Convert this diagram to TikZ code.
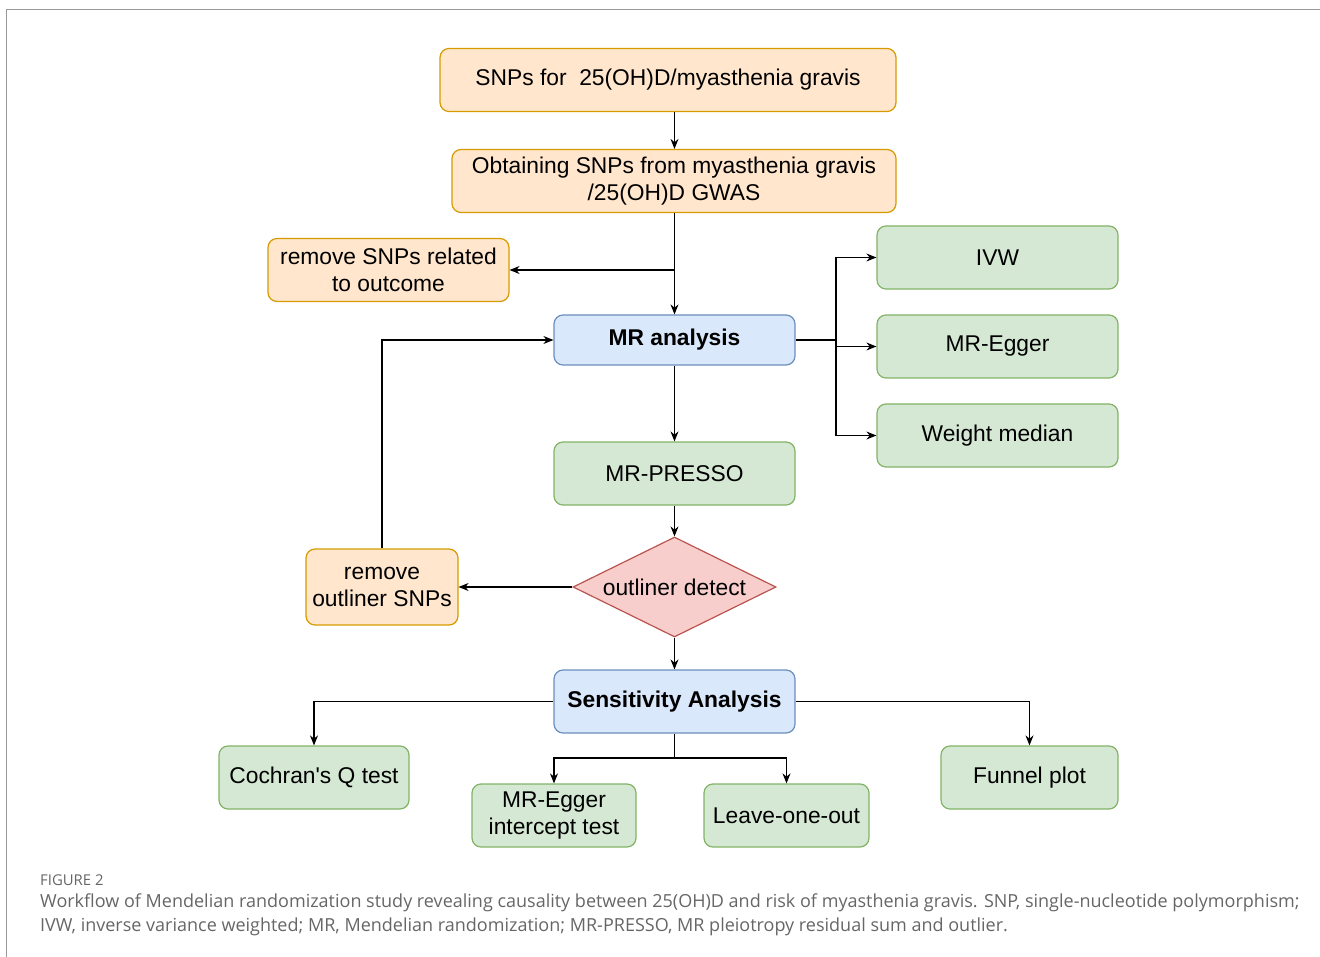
\documentclass[tikz,border=0pt]{standalone}
\usepackage{fontspec}
\setmainfont{Liberation Sans}
\newfontfamily\capfont{Open Sans}
\usetikzlibrary{shapes.geometric,arrows.meta}
\definecolor{ofill}{HTML}{FFE6CC}\definecolor{odraw}{HTML}{D79B00}
\definecolor{bfill}{HTML}{DAE8FC}\definecolor{bdraw}{HTML}{6C8EBF}
\definecolor{gfill}{HTML}{D5E8D4}\definecolor{gdraw}{HTML}{82B366}
\definecolor{rfill}{HTML}{F8CECC}\definecolor{rdraw}{HTML}{B85450}
\definecolor{capgray}{HTML}{666666}
\tikzset{
  box/.style={rounded corners=9pt, line width=1.2pt, align=center, inner sep=0pt,
    font=\fontsize{22.8}{27.5}\selectfont},
  obox/.style={box, fill=ofill, draw=odraw},
  bbox/.style={box, fill=bfill, draw=bdraw, font=\fontsize{22.8}{27.5}\selectfont\bfseries},
  gbox/.style={box, fill=gfill, draw=gdraw},
  dia/.style={diamond, fill=rfill, draw=rdraw, line width=1.2pt, inner sep=0pt},
  conn/.style={line width=1.3pt, -{Stealth[length=10pt,width=8pt]}},
  plain/.style={line width=1.3pt}
}
\begin{document}
\begin{tikzpicture}[x=1pt,y=-1pt]
\useasboundingbox (0,0) rectangle (1320,957);
\draw[gray!80, line width=1pt] (6,957) -- (6,10) -- (1320,10);
% nodes
\node[obox, minimum width=456pt, minimum height=63pt] (n1) at (668,80) {SNPs for\ \ 25(OH)D/myasthenia gravis};
\node[obox, minimum width=444pt, minimum height=63pt] (n2) at (674,181) {Obtaining SNPs from myasthenia gravis\\/25(OH)D GWAS};
\node[obox, minimum width=241pt, minimum height=63pt] (rem1) at (388.5,270) {remove SNPs related\\to outcome};
\node[bbox, minimum width=241pt, minimum height=50pt] (mr) at (674.5,340) {MR analysis};
\node[gbox, minimum width=241pt, minimum height=63pt] (ivw) at (997.5,257.5) {IVW};
\node[gbox, minimum width=241pt, minimum height=63pt] (egg) at (997.5,346.5) {MR-Egger};
\node[gbox, minimum width=241pt, minimum height=63pt] (wm) at (997.5,435.5) {Weight median};
\node[gbox, minimum width=241pt, minimum height=63pt] (presso) at (674.5,473.5) {MR-PRESSO};
\node[dia, minimum width=203pt, minimum height=100pt] (det) at (674.5,587) {};
\node[font=\fontsize{22.8}{27.5}\selectfont] (dett) at (det) {outliner detect};
\node[obox, minimum width=152pt, minimum height=76pt] (rem2) at (382,587) {remove\\outliner SNPs};
\node[bbox, minimum width=241pt, minimum height=63pt] (sens) at (674.5,701.5) {Sensitivity Analysis};
\node[gbox, minimum width=190pt, minimum height=63pt] (coch) at (314,777.5) {Cochran\textquotesingle s Q test};
\node[gbox, minimum width=164pt, minimum height=63pt] (mregg) at (554,815.5) {MR-Egger\\intercept test};
\node[gbox, minimum width=165pt, minimum height=63pt] (loo) at (786.5,815.5) {Leave-one-out};
\node[gbox, minimum width=177pt, minimum height=63pt] (fun) at (1029.5,777.5) {Funnel plot};
% connectors
\draw[conn] (n1.south -| mr) -- (n2.north -| mr);
\draw[conn] (n2.south -| mr) -- (mr.north);
\coordinate (j1) at (674.5,270);
\draw[conn] (j1) -- (rem1.east);
\coordinate (j2) at (836,340);
\draw[plain] (mr.east) -- (j2);
\draw[conn] (j2) |- (ivw.west);
\draw[conn] (j2) -- (egg.west -| j2) -- (egg.west);
\draw[conn] (j2) |- (wm.west);
\draw[conn] (mr.south) -- (presso.north);
\draw[conn] (presso.south) -- (det.north);
\draw[conn] (det.west) -- (rem2.east);
\draw[conn] (rem2.north) |- (mr.west);
\draw[conn] (det.south) -- (sens.north);
\draw[conn] (sens.west) -| (coch.north);
\draw[conn] (sens.east) -| (fun.north);
\coordinate (j3) at (674.5,758);
\draw[plain] (sens.south) -- (j3);
\draw[conn] (j3) -| (mregg.north);
\draw[conn] (j3) -| (loo.north);
% caption
\node[anchor=west, inner sep=0pt, text=capgray, font=\capfont\fontsize{14.9}{17}\selectfont] (fig) at (40,880) {FIGURE 2};
\node[anchor=north west, inner sep=0pt, text=capgray, align=left, font=\capfont\fontsize{18}{24}\selectfont] (cap) at (40,894) {Workflow of Mendelian randomization study revealing causality between 25(OH)D and risk of myasthenia gravis. SNP, single-nucleotide polymorphism;\\IVW, inverse variance weighted; MR, Mendelian randomization; MR-PRESSO, MR pleiotropy residual sum and outlier.};
\end{tikzpicture}
\end{document}
